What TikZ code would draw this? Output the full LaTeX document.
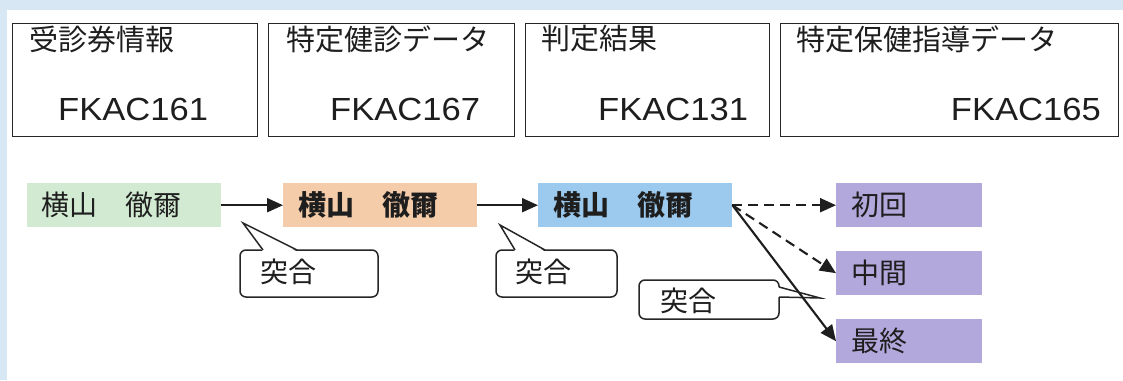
\documentclass[tikz,border=0pt]{standalone}
\usepackage{fontspec}
\usetikzlibrary{arrows.meta}
\newfontfamily\jp{Noto Sans CJK JP}
\newfontfamily\lat[FakeStretch=1.08]{Liberation Sans}
\definecolor{bgblue}{HTML}{D8E7F4}
\definecolor{boxline}{HTML}{262626}
\definecolor{ink}{HTML}{1E1E1E}
\definecolor{cgreen}{HTML}{D2EAD2}
\definecolor{corange}{HTML}{F5CCA9}
\definecolor{cblue}{HTML}{9CCAEE}
\definecolor{cpurple}{HTML}{B3A8DC}
\tikzset{
  topbox/.style={draw=boxline, line width=1.3pt, fill=white, minimum height=113pt, anchor=north west, inner sep=0pt},
  toptitle/.style={anchor=west, inner sep=0pt, text=ink, font=\jp\fontsize{29}{31}\selectfont},
  topcode/.style={inner sep=0pt, text=ink, font=\lat\fontsize{32}{34}\selectfont},
  namebox/.style={minimum width=194pt, minimum height=44pt, anchor=north west, inner sep=0pt},
  resbox/.style={fill=cpurple, minimum width=146pt, minimum height=44pt, anchor=north west, inner sep=0pt},
  nametext/.style={anchor=west, inner sep=0pt, text=ink, font=\jp\fontsize{28}{30}\selectfont},
  boldname/.style={nametext, font=\jp\bfseries\fontsize{28}{30}\selectfont},
  calltext/.style={inner sep=0pt, text=ink, font=\jp\fontsize{28}{30}\selectfont},
  callline/.style={draw=boxline, line width=1.5pt},
  flow/.style={draw=ink, line width=2.1pt, -{Triangle[length=16pt,width=14pt]}},
  dflow/.style={flow, dash pattern=on 10pt off 6pt}
}
\begin{document}
\begin{tikzpicture}[x=1pt,y=-1pt]
\useasboundingbox (0,0) rectangle (1123,380);
\fill[bgblue] (0,0) rectangle (1123,380);
\fill[white] (7,10) rectangle (1123,380);

% top boxes
\node[topbox, minimum width=245pt] (b1) at (12,23) {};
\node[topbox, minimum width=246pt] (b2) at (268,23) {};
\node[topbox, minimum width=244pt] (b3) at (525,23) {};
\node[topbox, minimum width=338pt] (b4) at (780,23) {};
\node[toptitle] (t1) at (29,39) {受診券情報};
\node[toptitle] (t2) at (286,39) {特定健診データ};
\node[toptitle] (t3) at (541,39) {判定結果};
\node[toptitle] (t4) at (796,39) {特定保健指導データ};
\node[topcode, anchor=base west] (c1) at (58,120) {FKAC161};
\node[topcode, anchor=base west] (c2) at (330,120) {FKAC167};
\node[topcode, anchor=base west] (c3) at (598,120) {FKAC131};
\node[topcode, anchor=base east] (c4) at (1101,120) {FKAC165};

% name boxes
\node[namebox, fill=cgreen] (g) at (27,183) {};
\node[namebox, fill=corange] (o) at (283,183) {};
\node[namebox, fill=cblue] (bl) at (538,183) {};
\node[nametext] (gt) at (41,205) {横山　徹爾};
\node[boldname] (ot) at (298,205) {横山　徹爾};
\node[boldname] (bt) at (553,205) {横山　徹爾};

% result boxes
\node[resbox] (p1) at (836,183) {};
\node[resbox] (p2) at (836,251) {};
\node[resbox] (p3) at (836,319) {};
\node[nametext] (p1t) at (851,205) {初回};
\node[nametext] (p2t) at (851,273) {中間};
\node[nametext] (p3t) at (851,341) {最終};

% callouts
\draw[callline, rounded corners=6pt] (240,250) rectangle (378,297);
\fill[white] (263,251.5) -- (243,223) -- (297,251.5) -- cycle;
\draw[callline, line join=miter] (263,250) -- (243,223) -- (297,250);
\node[calltext] (k1) at (288,272) {突合};

\draw[callline, rounded corners=6pt] (496,250) rectangle (617,297);
\fill[white] (515,251.5) -- (500,225) -- (545,251.5) -- cycle;
\draw[callline, line join=miter] (515,250) -- (500,225) -- (545,250);
\node[calltext] (k2) at (543,272) {突合};

\draw[callline, rounded corners=6pt] (639,280) rectangle (779,319);
\fill[white] (777.5,287) -- (820,298) -- (777.5,297) -- cycle;
\draw[callline, line join=miter] (779,287) -- (820,298) -- (779,297);
\node[calltext] (k3) at (688,301) {突合};

% connectors
\draw[flow] (g.east) -- (o.west);
\draw[flow] (o.east) -- (bl.west);
\draw[dflow] (bl.east) -- (p1.west);
\draw[dflow] (bl.east) -- (p2.west);
\draw[flow] (bl.east) -- (p3.west);
\end{tikzpicture}
\end{document}
